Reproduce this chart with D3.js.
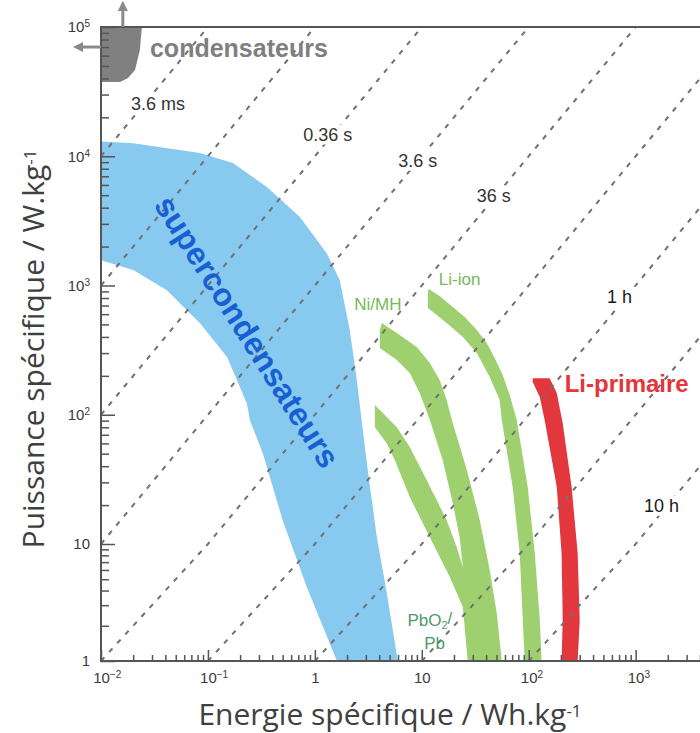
<!DOCTYPE html>
<html>
<head>
<meta charset="utf-8">
<script src="https://cdn.jsdelivr.net/npm/d3@7"></script>
<style>
    body { margin: 0; background: #fff; }
    svg { display: block; }
    .tick text { font-family: "Liberation Sans", Arial, sans-serif; font-size: 15px; fill: #3a3a3a; }
    .tick line { stroke: #555; stroke-width: 1.5; }
    .axis-title { font-family: "Open Sans", sans-serif; font-size: 30px; fill: #404040; }
    .time-label { font-family: "Liberation Sans", Arial, sans-serif; font-size: 18px; }
</style>
</head>
<body>
<svg id="svg"></svg>
<script>
// durations of the dashed lines, in hours (E / P)
const timeLines = [1e-6, 1e-5, 1e-4, 1e-3, 1e-2, 1e-1, 1, 10, 100];
const timeLabels = [
    ["3.6 ms", 0.0341, 24900],
    ["0.36 s", 1.32, 14400],
    ["3.6 s", 9.18, 9040],
    ["36 s", 47.1, 4840],
    ["1 h", 708, 800],
    ["10 h", 1750, 19.3]
];

// regions: [energie Wh/kg, puissance W/kg]
const condensateurs = [
    [0.01, 1e5], [0.0241, 1e5], [0.0231, 66400], [0.0208, 46400],
    [0.0179, 40300], [0.0151, 37500], [0.01, 37500]
];
const supercondensateurs = [
    [0.01, 13000], [0.02, 12600], [0.084, 10600], [0.171, 8870], [0.356, 5780],
    [0.724, 3390], [1.29, 1780], [1.71, 1100], [2.12, 453], [2.47, 186],
    [2.81, 76], [3.13, 37], [3.8, 11.3], [4.71, 3.8], [5.97, 1],
    [1.61, 1], [0.84, 4.3], [0.5, 15.3], [0.327, 50], [0.247, 91],
    [0.231, 123], [0.151, 280], [0.084, 513], [0.041, 923], [0.02, 1320], [0.01, 1570]
];
const nimh = [
    [4.23, 513], [6.22, 414], [8.97, 334], [11.9, 251], [14.7, 186], [17.1, 130],
    [19.1, 91], [26.4, 37.4], [34.9, 15.3], [43.2, 6.0], [50.2, 2.57], [56, 1],
    [28.1, 1], [25.8, 2.73], [24.2, 6.36], [22.6, 11.3], [19.5, 20.7], [15.7, 44.7],
    [11.9, 91], [9.57, 147], [7.72, 210], [5.84, 265], [4.05, 328], [4.05, 453]
];
const pbo2pb = [
    [3.64, 119], [3.64, 80], [4.71, 60], [5.6, 44.7], [7.72, 23.1], [11.9, 11.3],
    [18.3, 5.22], [24.2, 2.89], [26.9, 1],
    [38.8, 1], [24.2, 6.36], [21.2, 9.43], [17.1, 15.3], [11.1, 31.3],
    [7.72, 56.2], [5.84, 80], [4.05, 109]
];
const liIon = [
    [11.6, 940], [14.7, 829], [19.5, 682], [25.2, 570], [32.7, 453], [40.5, 359],
    [48.1, 275], [57.1, 203], [66.4, 142], [77.3, 91], [97.9, 27.6], [114, 8.38],
    [127, 2.24], [132, 1],
    [91.8, 1], [88, 2.24], [82.4, 8.38], [70.8, 27.6], [56, 91], [53.5, 130],
    [43.2, 196], [32.7, 301], [24.2, 400], [17.1, 513], [11.4, 670], [11.4, 875]
];
const liPrimaire = [
    [157, 192], [183, 147], [208, 86], [252, 27.6], [287, 8.38], [300, 2.24], [287, 1],
    [203, 1], [208, 2.24], [203, 8.38], [183, 27.6], [141, 91], [127, 137],
    [109, 179], [109, 192]
];

const regionLabels = [
    // text, E, P
    ["condensateurs", 0.0287, 66400],
    ["supercondensateurs", 0.222, 428],
    ["Ni/MH", 3.88, 706],
    ["Li-ion", 22.6, 1100],
    ["Li-primaire", 217, 167]
];

const xMajor = [1e-2, 1e-1, 1, 10, 100, 1000];
const xTickLabels = [["10", "\u22122"], ["10", "\u22121"], ["1", ""], ["10", ""], ["10", "2"], ["10", "3"]];
const yMajor = [1, 10, 100, 1e3, 1e4, 1e5];
const yTickLabels = [["1", ""], ["10", ""], ["10", "2"], ["10", "3"], ["10", "4"], ["10", "5"]];

let width = 700;
let height = 733;

let svg = d3.select("#svg").attr("width", width).attr("height", height);

let x = d3.scaleLog().domain([1e-2, 4000]).range([101, 700]);
// the scanned figure has a shorter first decade on the y axis
let y = d3.scaleLog().domain([1, 10, 1e5]).range([661, 544, 27]);

const plotLeft = x(1e-2), plotRight = width, plotTop = y(1e5), plotBottom = y(1);

svg.append("clipPath").attr("id", "plot")
    .append("rect")
    .attr("x", plotLeft).attr("y", plotTop)
    .attr("width", plotRight - plotLeft).attr("height", plotBottom - plotTop);

let area = d3.line()
    .x(d => x(d[0]))
    .y(d => y(d[1]))
    .curve(d3.curveLinearClosed);

let plot = svg.append("g").attr("clip-path", "url(#plot)");

plot.append("path").attr("d", area(condensateurs)).attr("fill", "#808080");
plot.append("path").attr("d", area(supercondensateurs)).attr("fill", "#88c9ef");
plot.append("path").attr("d", area(pbo2pb)).attr("fill", "#9fd06f");
plot.append("path").attr("d", area(nimh)).attr("fill", "#9fd06f");
plot.append("path").attr("d", area(liIon)).attr("fill", "#9fd06f");
plot.append("path").attr("d", area(liPrimaire)).attr("fill", "#e1373d");

// constant duration lines, P = E / t
let line = d3.line().x(d => x(d[0])).y(d => y(d[1]));
timeLines.forEach(t => {
    let pts = [];
    let e0 = Math.max(1e-2, t);
    let e1 = Math.min(4000, t * 1e5);
    pts.push([e0, e0 / t]);
    if (t * 10 > e0 && t * 10 < e1) pts.push([t * 10, 10]);
    pts.push([e1, e1 / t]);
    plot.append("path")
        .attr("d", line(pts))
        .attr("fill", "none")
        .attr("stroke", "#707070")
        .attr("stroke-width", 2)
        .attr("stroke-dasharray", "5,7");
});

// duration labels sit on their line, which is broken behind them
let tl = svg.selectAll(".time-label")
    .data(timeLabels)
    .join("g")
    .attr("class", "time-label")
    .attr("transform", d => `translate(${x(d[1])},${y(d[2])})`);
tl.append("rect").attr("fill", "#fff");
tl.append("text")
    .attr("text-anchor", "middle")
    .attr("dominant-baseline", "middle")
    .attr("fill", d => d[0].indexOf("h") > 0 ? "#1a1a1a" : "#333")
    .text(d => d[0]);
tl.each(function () {
    let g = d3.select(this);
    let b = g.select("text").node().getBBox();
    g.select("rect")
        .attr("x", b.x - 4).attr("y", b.y)
        .attr("width", b.width + 8).attr("height", b.height);
});

// region names
let rl = regionLabels;
svg.append("text")
    .attr("x", x(rl[0][1])).attr("y", y(rl[0][2]))
    .attr("dominant-baseline", "middle")
    .attr("font-family", "Liberation Sans, Arial, sans-serif")
    .attr("font-weight", "bold").attr("font-size", 25)
    .attr("fill", "#7f7f7f")
    .text(rl[0][0]);

svg.append("text")
    .attr("transform", `translate(${x(rl[1][1])},${y(rl[1][2])}) rotate(57.5)`)
    .attr("text-anchor", "middle")
    .attr("dominant-baseline", "middle")
    .attr("font-family", "Liberation Sans, Arial, sans-serif")
    .attr("font-weight", "bold").attr("font-size", 32)
    .attr("fill", "#1660d4")
    .text(rl[1][0]);

[rl[2], rl[3]].forEach(d => {
    svg.append("text")
        .attr("x", x(d[1])).attr("y", y(d[2]))
        .attr("text-anchor", "middle")
        .attr("dominant-baseline", "middle")
        .attr("font-family", "Liberation Sans, Arial, sans-serif")
        .attr("font-size", 17)
        .attr("fill", "#76b85c")
        .text(d[0]);
});

let pb = svg.append("text")
    .attr("font-family", "Liberation Sans, Arial, sans-serif")
    .attr("font-size", 17)
    .attr("fill", "#4f9a6c")
    .attr("text-anchor", "middle");
pb.append("tspan").attr("x", x(11.9)).attr("y", y(2.24)).attr("dy", "0.35em").text("PbO");
pb.append("tspan").attr("font-size", 11).attr("dy", "0.3em").text("2");
pb.append("tspan").attr("dy", "-0.3em").text("/");
svg.append("text")
    .attr("x", x(13.2)).attr("y", y(1.43)).attr("dy", "0.35em")
    .attr("text-anchor", "middle")
    .attr("font-family", "Liberation Sans, Arial, sans-serif")
    .attr("font-size", 17)
    .attr("fill", "#4f9a6c")
    .text("Pb");

svg.append("text")
    .attr("x", x(rl[4][1])).attr("y", y(rl[4][2]))
    .attr("dominant-baseline", "middle")
    .attr("font-family", "Liberation Sans, Arial, sans-serif")
    .attr("font-weight", "bold").attr("font-size", 24)
    .attr("fill", "#e5353b")
    .text(rl[4][0]);

// axes
function isMajor(d) {
    let l = Math.log10(d);
    return Math.abs(l - Math.round(l)) < 1e-9;
}

function supLabels(g, labels, centerBase) {
    g.selectAll(".tick text").each(function (d, i) {
        let t = d3.select(this).text(null);
        let base = t.append("tspan").text(labels[i][0]);
        if (labels[i][1]) {
            t.append("tspan").attr("dy", "-0.5em").attr("font-size", "10px").text(labels[i][1]);
        }
        if (centerBase) {
            // keep the mantissa centred on the tick, exponent hangs to the right
            t.attr("text-anchor", "start").attr("x", -base.node().getComputedTextLength() / 2);
        }
    });
}

let gx = svg.append("g").attr("transform", `translate(0,${plotBottom})`);
gx.call(d3.axisBottom(x).tickValues(x.ticks().filter(d => !isMajor(d))).tickSize(-6).tickFormat(""));
let gx2 = svg.append("g").attr("transform", `translate(0,${plotBottom})`);
gx2.call(d3.axisBottom(x).tickValues(xMajor).tickSize(-11).tickPadding(11));
supLabels(gx2, xTickLabels, true);

let gy = svg.append("g").attr("transform", `translate(${plotLeft},0)`);
gy.call(d3.axisLeft(y).tickValues(y.ticks().filter(d => !isMajor(d))).tickSize(-8).tickFormat(""));
let gy2 = svg.append("g").attr("transform", `translate(${plotLeft},0)`);
gy2.call(d3.axisLeft(y).tickValues(yMajor).tickSize(-14).tickPadding(11));
supLabels(gy2, yTickLabels, false);

svg.selectAll(".domain").remove();

// frame
svg.append("path")
    .attr("d", `M${plotRight},${plotTop}H${plotLeft}V${plotBottom}H${plotRight}`)
    .attr("fill", "none")
    .attr("stroke", "#555")
    .attr("stroke-width", 2);

// arrows out of the frame for the condensateurs
svg.append("defs").append("marker")
    .attr("id", "head")
    .attr("viewBox", "0 0 10 10")
    .attr("refX", 3).attr("refY", 5)
    .attr("markerWidth", 3.5).attr("markerHeight", 3.5)
    .attr("orient", "auto")
    .append("path").attr("d", "M0,0L10,5L0,10Z").attr("fill", "#8a8a8a");

[[[0.016, 1e5], [0.016, 1.4e5]], [[0.01, 70000], [0.0064, 70000]]].forEach(a => {
    svg.append("path")
        .attr("d", line(a))
        .attr("stroke", "#8a8a8a")
        .attr("stroke-width", 3)
        .attr("marker-end", "url(#head)");
});

// axis titles
let xt = svg.append("text")
    .attr("class", "axis-title")
    .attr("x", 390).attr("y", 725)
    .attr("text-anchor", "middle");
xt.append("tspan").text("Energie spécifique / Wh.kg");
xt.append("tspan").attr("dy", "-0.5em").attr("font-size", "17px").text("-1");

let yt = svg.append("text")
    .attr("class", "axis-title")
    .attr("transform", "translate(44,349) rotate(-90)")
    .attr("text-anchor", "middle");
yt.append("tspan").text("Puissance spécifique / W.kg");
yt.append("tspan").attr("dy", "-0.5em").attr("font-size", "17px").text("-1");
</script>
</body>
</html>
